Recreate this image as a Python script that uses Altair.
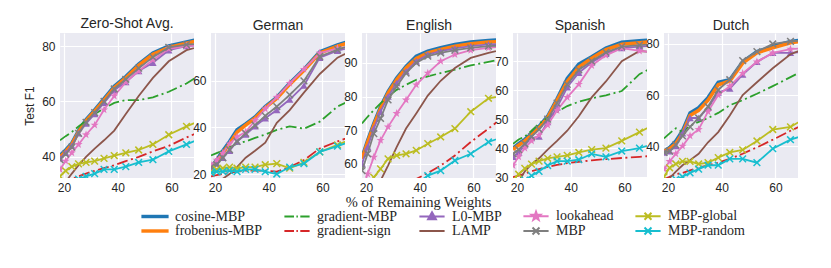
import altair as alt
import pandas as pd

# x positions (% of remaining weights)
X = [18.5, 20.6, 22.9, 25.4, 28.2, 31.4, 34.9, 38.7, 43.0, 47.8, 53.1, 59.0, 65.6, 72.9]

methods = ["cosine-MBP", "frobenius-MBP", "gradient-MBP", "gradient-sign", "L0-MBP",
           "LAMP", "lookahead", "MBP", "MBP-global", "MBP-random"]
colors = ["#1f77b4", "#ff7f0e", "#2ca02c", "#d62728", "#9467bd",
          "#8c564b", "#e377c2", "#7f7f7f", "#bcbd22", "#17becf"]

panel_names = ["Zero-Shot Avg.", "German", "English", "Spanish", "Dutch"]
y_domains = [[32.4, 84.7], [18.3, 80.6], [55.8, 98.9], [29.7, 79.7], [27.5, 84.3]]
y_ticks = [[40, 60, 80], [20, 40, 60], [60, 70, 80, 90], [30, 40, 50, 60, 70], [40, 60, 80]]
x_ticks = [20, 40, 60]

zeroshot = {
    "cosine-MBP":    [40.5, 42.5, 45, 49.5, 53.5, 57, 61, 65.5, 69, 73.5, 77.5, 80, 81.5, 83],
    "frobenius-MBP": [40, 42, 44.5, 49, 53, 56.5, 60.5, 65, 68.5, 73, 77, 79.5, 81, 82.5],
    "gradient-MBP":  [46, 47.5, 49, 51, 53, 55.5, 57.5, 59.5, 60.5, 60.5, 61.5, 63.5, 66.5, 71],
    "gradient-sign": [31, 31.5, 32, 33, 34, 35, 36, 37, 38.5, 40, 42, 44, 47, 50],
    "L0-MBP":        [39.5, 41.5, 44, 48.5, 52, 55.5, 59.5, 64, 67, 71, 74, 78.5, 80, 80.5],
    "LAMP":          [28, 31, 34, 37, 40, 43, 46, 49.5, 55.5, 62, 68.5, 74.5, 78.5, 80.5],
    "lookahead":     [35.5, 38.5, 41.5, 44.5, 48, 51.5, 57, 62, 67, 71, 75, 79, 80, 80.5],
    "MBP":           [39, 41, 43.5, 48.5, 52.5, 56, 60, 64.5, 68, 72, 76, 79.5, 80.5, 81],
    "MBP-global":    [33, 35, 36.5, 37.5, 38, 38.5, 39.5, 40.5, 41.5, 42.5, 44.5, 48, 51, 54],
    "MBP-random":    [29, 30, 31, 32, 33, 34, 35.5, 35.5, 36.5, 38, 39, 42, 44.5, 47.5],
}
german = {
    "cosine-MBP":    [23, 26, 30, 34, 39, 41.5, 44.5, 49, 53, 59, 65, 72.5, 75.5, 78],
    "frobenius-MBP": [22.5, 25.5, 29, 33, 38, 41, 44, 48.5, 52.5, 58.5, 64.5, 72, 75, 77.5],
    "gradient-MBP":  [28, 29, 30, 31.5, 33, 34, 35.5, 37, 39, 40.5, 39.5, 42.5, 49, 53],
    "gradient-sign": [19, 19.5, 20, 20.5, 21, 21.5, 21.5, 21.5, 21, 23, 26, 31, 34, 37],
    "L0-MBP":        [23, 24.5, 27, 30, 34, 37, 40.5, 44, 47.5, 52, 58, 70, 73, 75],
    "LAMP":          [14, 16, 18, 20, 23, 27, 30, 33.5, 42, 47.5, 55, 63, 70, 74],
    "lookahead":     [24, 26, 29, 33, 36, 38, 43, 48, 53, 59, 65, 72, 74, 75],
    "MBP":           [23, 24, 27, 30.5, 34, 37.5, 41, 45, 49, 54, 60, 70.5, 73.5, 76],
    "MBP-global":    [21, 22, 22.5, 23, 22.5, 23, 23, 24, 24.5, 22.5, 25, 29.5, 32.5, 36],
    "MBP-random":    [20.5, 21, 21, 21.5, 21, 22, 22, 21, 20, 23, 24.5, 29.5, 32, 35],
}
english = {
    "cosine-MBP":    [62, 67, 72, 77, 81.5, 85.5, 89, 92, 93.5, 94.5, 95.5, 96.2, 96.7, 97],
    "frobenius-MBP": [61.5, 66.5, 71.5, 76.5, 81, 85, 88.5, 91.3, 93, 94, 95, 95.7, 96.2, 96.5],
    "gradient-MBP":  [72, 74, 76, 78, 80, 82, 83.5, 85, 86, 87, 88, 89.3, 90.3, 91.5],
    "gradient-sign": [45, 46, 47, 48, 49.5, 51, 53, 55.5, 57.3, 59.5, 62.5, 66.5, 70.5, 75],
    "L0-MBP":        [60, 65, 70.5, 75.5, 80, 84, 87.5, 90.5, 92.5, 93.5, 94.3, 95, 95.5, 95.8],
    "LAMP":          [45, 48, 51, 55, 59.5, 65, 70.5, 75, 80.3, 84.7, 88.5, 91.5, 93, 94.3],
    "lookahead":     [52, 57, 62, 67, 71, 75, 79, 83.5, 87, 90.5, 92.5, 93.8, 94.5, 95],
    "MBP":           [58, 63, 69, 73.5, 79, 83, 87, 90, 92, 93, 93.8, 94.5, 95, 95.3],
    "MBP-global":    [50, 54, 56, 58.5, 61.5, 62.5, 63, 64, 66, 68, 70.5, 75.5, 79.5, 80.5],
    "MBP-random":    [43, 45, 46, 47, 48, 50, 52, 54, 56.5, 58, 61, 63, 66.5, 68.5],
}
spanish = {
    "cosine-MBP":    [40, 41.5, 43, 45, 47.5, 51, 57, 64, 69, 71.5, 74.5, 76.5, 77, 77.5],
    "frobenius-MBP": [39.5, 41, 42.5, 44.5, 47, 50.5, 56.5, 63, 68, 71, 74, 75.8, 76.3, 77],
    "gradient-MBP":  [41.5, 43, 44, 46, 48.5, 50.5, 52.5, 54.5, 56, 57.2, 58.2, 59.7, 65.5, 69],
    "gradient-sign": [30, 30.5, 31.2, 32, 32.8, 33.5, 34.2, 34.8, 35.3, 35.8, 36.2, 36.6, 37, 37.5],
    "L0-MBP":        [37, 38.5, 41, 43.5, 44, 49, 54, 61, 66, 69.5, 72.5, 74.5, 75, 75.5],
    "LAMP":          [26, 28.5, 32, 34.5, 36.5, 39.5, 42.5, 46, 51, 57.5, 63, 70, 73.5, 73],
    "lookahead":     [34, 37, 40, 42.5, 44.5, 48, 53, 57.5, 62, 68.5, 72, 74.5, 73.5, 73],
    "MBP":           [38, 39.5, 41.5, 44, 46.5, 50, 55.5, 62, 67, 70, 73, 75, 75.5, 76],
    "MBP-global":    [29, 31, 33, 34.5, 35.5, 36.5, 37, 37.5, 38.5, 39.5, 40, 42.5, 45.5, 49],
    "MBP-random":    [27, 28, 29, 30.5, 32, 34, 35.5, 35.5, 36, 38, 37, 39, 40, 42],
}
dutch = {
    "cosine-MBP":    [38, 39.5, 42, 46, 53, 55, 59, 65, 66, 73, 77, 79, 81, 82],
    "frobenius-MBP": [38, 39, 41, 45, 52, 54, 58, 64, 65.5, 72.5, 76.5, 78.5, 80.5, 81.5],
    "gradient-MBP":  [43, 45, 47, 45.5, 48, 49.5, 51, 53, 56, 58, 60.5, 63.5, 67, 71],
    "gradient-sign": [27, 28, 29, 29.5, 30.5, 31.5, 32.5, 33.5, 35, 37, 39.5, 42.5, 46, 49.5],
    "L0-MBP":        [37.5, 38, 40, 45, 51, 51, 55, 61, 62.5, 68, 73, 76.5, 76.5, 77],
    "LAMP":          [25, 27.5, 30, 32.5, 34.5, 37, 41.5, 45.5, 52, 60, 65, 70.5, 76, 79],
    "lookahead":     [31, 34, 37, 40, 44, 46.5, 53.5, 60, 63.5, 68.5, 73, 76.5, 78, 78.5],
    "MBP":           [37.5, 38, 40.5, 44, 47.5, 51, 55.5, 62, 66, 73.5, 77, 80, 81, 81.5],
    "MBP-global":    [28, 31.5, 33, 34, 34, 33, 33.5, 35.5, 37.5, 38.5, 42, 46.5, 47.5, 52],
    "MBP-random":    [24, 25.5, 27, 28, 29.5, 31, 32.5, 32.5, 35, 35, 33.5, 39, 42.5, 45],
}
panel_data = [zeroshot, german, english, spanish, dutch]

TEXT = "#262626"
SANS = "Liberation Sans"
SERIF = "Liberation Serif"
BG = "#EAEAF2"

thick = {"cosine-MBP", "frobenius-MBP"}
dashed = {"gradient-MBP", "gradient-sign"}
STAR = ("M0,-1L0.235,-0.324L0.951,-0.309L0.38,0.124L0.588,0.809L0,0.4"
        "L-0.588,0.809L-0.38,0.124L-0.951,-0.309L-0.235,-0.324Z")
XMARK = "M-1,-1L1,1M-1,1L1,-1"
markers = {
    "L0-MBP": dict(shape="triangle-up", filled=True, size=55),
    "lookahead": dict(shape=STAR, filled=True, size=75),
    "MBP": dict(shape=XMARK, filled=False, size=45, strokeWidth=1.5),
    "MBP-global": dict(shape=XMARK, filled=False, size=45, strokeWidth=1.5),
    "MBP-random": dict(shape=XMARK, filled=False, size=45, strokeWidth=1.5),
}

# legend symbols (line + marker), in units of half the symbol box
LINE = "M-2.1,0L2.1,0"
XL = "M-0.58,-0.58L0.58,0.58M-0.58,0.58L0.58,-0.58"
leg_shapes = {
    "cosine-MBP": "M-2.1,-0.12L2.1,-0.12L2.1,0.12L-2.1,0.12Z",
    "frobenius-MBP": "M-2.1,-0.12L2.1,-0.12L2.1,0.12L-2.1,0.12Z",
    "gradient-MBP": "M-2.1,0L-0.5,0M-0.1,0L0.15,0M0.55,0L2.1,0",
    "gradient-sign": "M-2.1,0L-0.5,0M-0.1,0L0.15,0M0.55,0L2.1,0",
    "L0-MBP": LINE + "M0,-0.7L0.65,0.45L-0.65,0.45Z",
    "LAMP": LINE,
    "lookahead": LINE + ("M0,-0.75L0.176,-0.243L0.713,-0.232L0.285,0.093L0.441,0.607L0,0.3"
                         "L-0.441,0.607L-0.285,0.093L-0.713,-0.232L-0.176,-0.243Z"),
    "MBP": LINE + XL,
    "MBP-global": LINE + XL,
    "MBP-random": LINE + XL,
}
col_of = dict(zip(methods, colors))

X_DOM = [18.5, 68.4]


def panel(i):
    name = panel_names[i]
    data = panel_data[i]
    xaxis = alt.Axis(values=x_ticks, labelFlush=False, labelOverlap=False, labelPadding=4,
                     title="% of Remaining Weights" if i == 2 else None,
                     titleFont=SERIF, titleFontSize=14.5, titleFontWeight="normal",
                     titleColor=TEXT, titlePadding=2, titleX=56)
    yaxis = alt.Axis(values=y_ticks[i], labelFlush=False, labelOverlap=False, labelPadding=5,
                     title="Test F1" if i == 0 else None,
                     titleFont=SANS, titleFontSize=12, titleFontWeight="normal",
                     titleColor=TEXT, titlePadding=5)
    xs = alt.Scale(domain=X_DOM, nice=False, zero=False)
    ys = alt.Scale(domain=y_domains[i], nice=False, zero=False)
    enc = dict(x=alt.X("x:Q", scale=xs, axis=xaxis),
               y=alt.Y("y:Q", scale=ys, axis=yaxis))
    layers = []
    for m in methods:
        df = pd.DataFrame({"x": X, "y": data[m], "method": m})
        lk = dict(clip=True, color=col_of[m], strokeWidth=3.5 if m in thick else 1.8)
        if m in dashed:
            lk["strokeDash"] = [11, 3.5, 2, 3.5]
        base = alt.Chart(df)
        layers.append(base.mark_line(**lk).encode(**enc))
        if m in markers:
            layers.append(base.mark_point(clip=True, color=col_of[m], opacity=1,
                                          **markers[m]).encode(**enc))
    if i == 0:
        leg = alt.Legend(title=None, orient="none", legendX=88, legendY=176, columns=5,
                         symbolSize=144, symbolStrokeWidth=2, symbolOpacity=1,
                         labelFont=SERIF, labelFontSize=14, labelColor=TEXT,
                         labelOffset=13, columnPadding=17, rowPadding=-1, labelLimit=300)
        ldf = pd.DataFrame({"method": methods, "x": [X[0]] * 10, "y": [y_domains[0][1]] * 10})
        layers.append(alt.Chart(ldf).mark_point(opacity=0, filled=True).encode(
            x=alt.X("x:Q", scale=xs, axis=xaxis),
            y=alt.Y("y:Q", scale=ys, axis=yaxis),
            shape=alt.Shape("method:N", scale=alt.Scale(domain=methods,
                            range=[leg_shapes[m] for m in methods]), legend=leg),
            fill=alt.Fill("method:N", scale=alt.Scale(domain=methods, range=colors), legend=leg),
            stroke=alt.Stroke("method:N", scale=alt.Scale(domain=methods, range=colors), legend=leg),
        ))
    return alt.layer(*layers).properties(
        width=134, height=145, view=alt.ViewBackground(fill=BG, stroke=None),
        title=alt.TitleParams(name, font=SANS, fontSize=14, fontWeight="normal",
                              color=TEXT, offset=0))


chart = alt.hconcat(*[panel(i) for i in range(5)], spacing=17, bounds="flush").properties(
    padding={"left": 15, "top": 8, "right": 5, "bottom": 5}
).configure_view(fill=BG, stroke=None).configure_axis(
    grid=True, gridColor="white", gridWidth=1.2, domain=False, ticks=False,
    labelFont=SANS, labelFontSize=12, labelColor=TEXT
)

chart.save("out.html", embed_options={"renderer": "svg", "actions": False})
